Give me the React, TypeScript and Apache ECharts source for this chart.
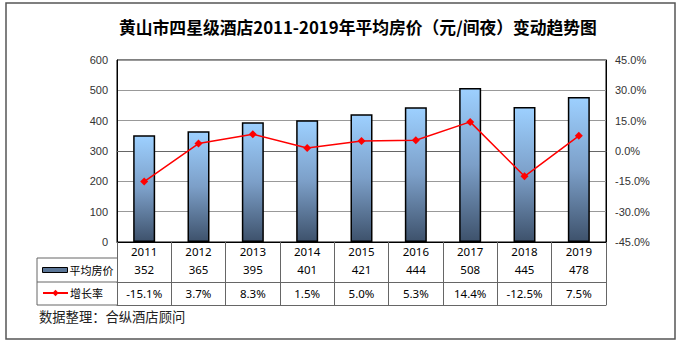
import React, { useEffect, useRef } from "react";
import * as echarts from "echarts";

const years = ["2011", "2012", "2013", "2014", "2015", "2016", "2017", "2018", "2019"];
const prices = [352, 365, 395, 401, 421, 444, 508, 445, 478];
const growth = [-15.1, 3.7, 8.3, 1.5, 5.0, 5.3, 14.4, -12.5, 7.5];
const priceName = "平均房价";
const growthName = "增长率";
const titleText = "黄山市四星级酒店2011-2019年平均房价（元/间夜）变动趋势图";
const sourceText = "数据整理：合纵酒店顾问";

export default function App() {
  const ref = useRef<HTMLDivElement>(null);
  useEffect(() => {
    if (!ref.current) return;
    const chart = echarts.init(ref.current, null, { renderer: "svg" });
    const tableFont = "Noto Sans";
    const cjk = "Noto Sans CJK SC";
    const barGrad = new echarts.graphic.LinearGradient(0, 0, 0, 1, [
      { offset: 0, color: "#9DD0FF" },
      { offset: 0.5, color: "#7C9FC8" },
      { offset: 1, color: "#3E526C" },
    ]);
    const tableLine = { color: "#666", width: 1 };
    chart.setOption({
      animation: false,
      backgroundColor: "#fff",
      title: {
        text: titleText,
        left: 119,
        top: 19,
        padding: 0,
        textStyle: { fontSize: 16.8, fontWeight: "bold", color: "#000", fontFamily: cjk },
      },
      grid: { left: 117, right: 76, top: 60, bottom: 103, show: true, borderColor: "#000", borderWidth: 1 },
      legend: [
        {
          data: [{ name: priceName, icon: "rect", itemStyle: { color: "#5B7697", borderColor: "#000", borderWidth: 1 } }],
          left: 42,
          top: 263,
          padding: 0,
          itemWidth: 25,
          itemHeight: 5,
          selectedMode: false,
          textStyle: { fontSize: 11, color: "#000", fontFamily: cjk, lineHeight: 14, padding: [0, 0, 0, -3] },
        },
        {
          data: [{ name: growthName }],
          left: 42,
          top: 286,
          padding: 0,
          itemWidth: 25,
          itemHeight: 8,
          selectedMode: false,
          textStyle: { fontSize: 11, color: "#000", fontFamily: cjk, lineHeight: 14, padding: [0, 0, 0, -3] },
        },
      ],
      xAxis: [
        {
          type: "category",
          data: years,
          position: "bottom",
          axisLine: { show: true, lineStyle: { color: "#000", width: 1 } },
          axisTick: { show: true, interval: 0, length: 63, lineStyle: tableLine },
          axisLabel: { interval: 0, margin: 3, fontSize: 11.5, color: "#000", fontFamily: tableFont },
          splitLine: { show: false },
        },
        {
          type: "category",
          data: years,
          position: "bottom",
          offset: 16,
          axisLine: { show: true, lineStyle: tableLine },
          axisTick: { show: false },
          axisLabel: {
            interval: 0,
            margin: 5,
            fontSize: 11.5,
            color: "#000",
            fontFamily: tableFont,
            formatter: (_v: string, i: number) => String(prices[i]),
          },
        },
        {
          type: "category",
          data: years,
          position: "bottom",
          offset: 40,
          axisLine: { show: true, lineStyle: tableLine },
          axisTick: { show: false },
          axisLabel: {
            interval: 0,
            margin: 5,
            fontSize: 11.5,
            color: "#000",
            fontFamily: tableFont,
            formatter: (_v: string, i: number) => growth[i].toFixed(1) + "%",
          },
        },
        {
          type: "category",
          data: years,
          position: "bottom",
          offset: 63,
          axisLine: { show: true, lineStyle: tableLine },
          axisTick: { show: false },
          axisLabel: { show: false },
        },
      ],
      yAxis: [
        {
          type: "value",
          min: 0,
          max: 600,
          interval: 100,
          axisLine: { show: true, lineStyle: { color: "#000" } },
          axisTick: { show: false },
          axisLabel: { fontSize: 11, color: "#333", fontFamily: "Liberation Sans", margin: 9 },
          splitLine: { show: true, lineStyle: { color: "#999", width: 1 } },
        },
        {
          type: "value",
          min: -45,
          max: 45,
          interval: 15,
          axisLine: { show: true, lineStyle: { color: "#000" } },
          axisTick: { show: false },
          axisLabel: {
            fontSize: 11,
            color: "#333",
            fontFamily: "Liberation Sans",
            margin: 9,
            formatter: (v: number) => v.toFixed(1) + "%",
          },
          splitLine: { show: false },
        },
      ],
      series: [
        {
          name: priceName,
          type: "bar",
          data: prices,
          barWidth: 22,
          xAxisIndex: 0,
          yAxisIndex: 0,
          itemStyle: { color: barGrad, borderColor: "#000", borderWidth: 1.5 },
        },
        {
          name: growthName,
          type: "line",
          data: growth,
          xAxisIndex: 0,
          yAxisIndex: 1,
          symbol: "diamond",
          symbolSize: 8,
          itemStyle: { color: "#FF0000" },
          lineStyle: { color: "#FF0000", width: 1.5 },
        },
      ],
      graphic: [
        {
          type: "rect",
          shape: { x: 6, y: 3, width: 669, height: 336 },
          style: { fill: "none", stroke: "#555", lineWidth: 1.5 },
          silent: true,
          z: -1,
        },
        { type: "line", shape: { x1: 37, y1: 258, x2: 117, y2: 258 }, style: { stroke: "#666", lineWidth: 1 } },
        { type: "line", shape: { x1: 37, y1: 282, x2: 117, y2: 282 }, style: { stroke: "#666", lineWidth: 1 } },
        { type: "line", shape: { x1: 37, y1: 305, x2: 117, y2: 305 }, style: { stroke: "#666", lineWidth: 1 } },
        { type: "line", shape: { x1: 37, y1: 258, x2: 37, y2: 305 }, style: { stroke: "#666", lineWidth: 1 } },
        {
          type: "text",
          left: 39,
          top: 310,
          style: { text: sourceText, fontSize: 13.3, fontFamily: cjk, fill: "#222" },
        },
      ],
    });
    return () => chart.dispose();
  }, []);
  return <div ref={ref} style={{ position: "fixed", left: 0, top: 0, width: 682, height: 345 }} />;
}
